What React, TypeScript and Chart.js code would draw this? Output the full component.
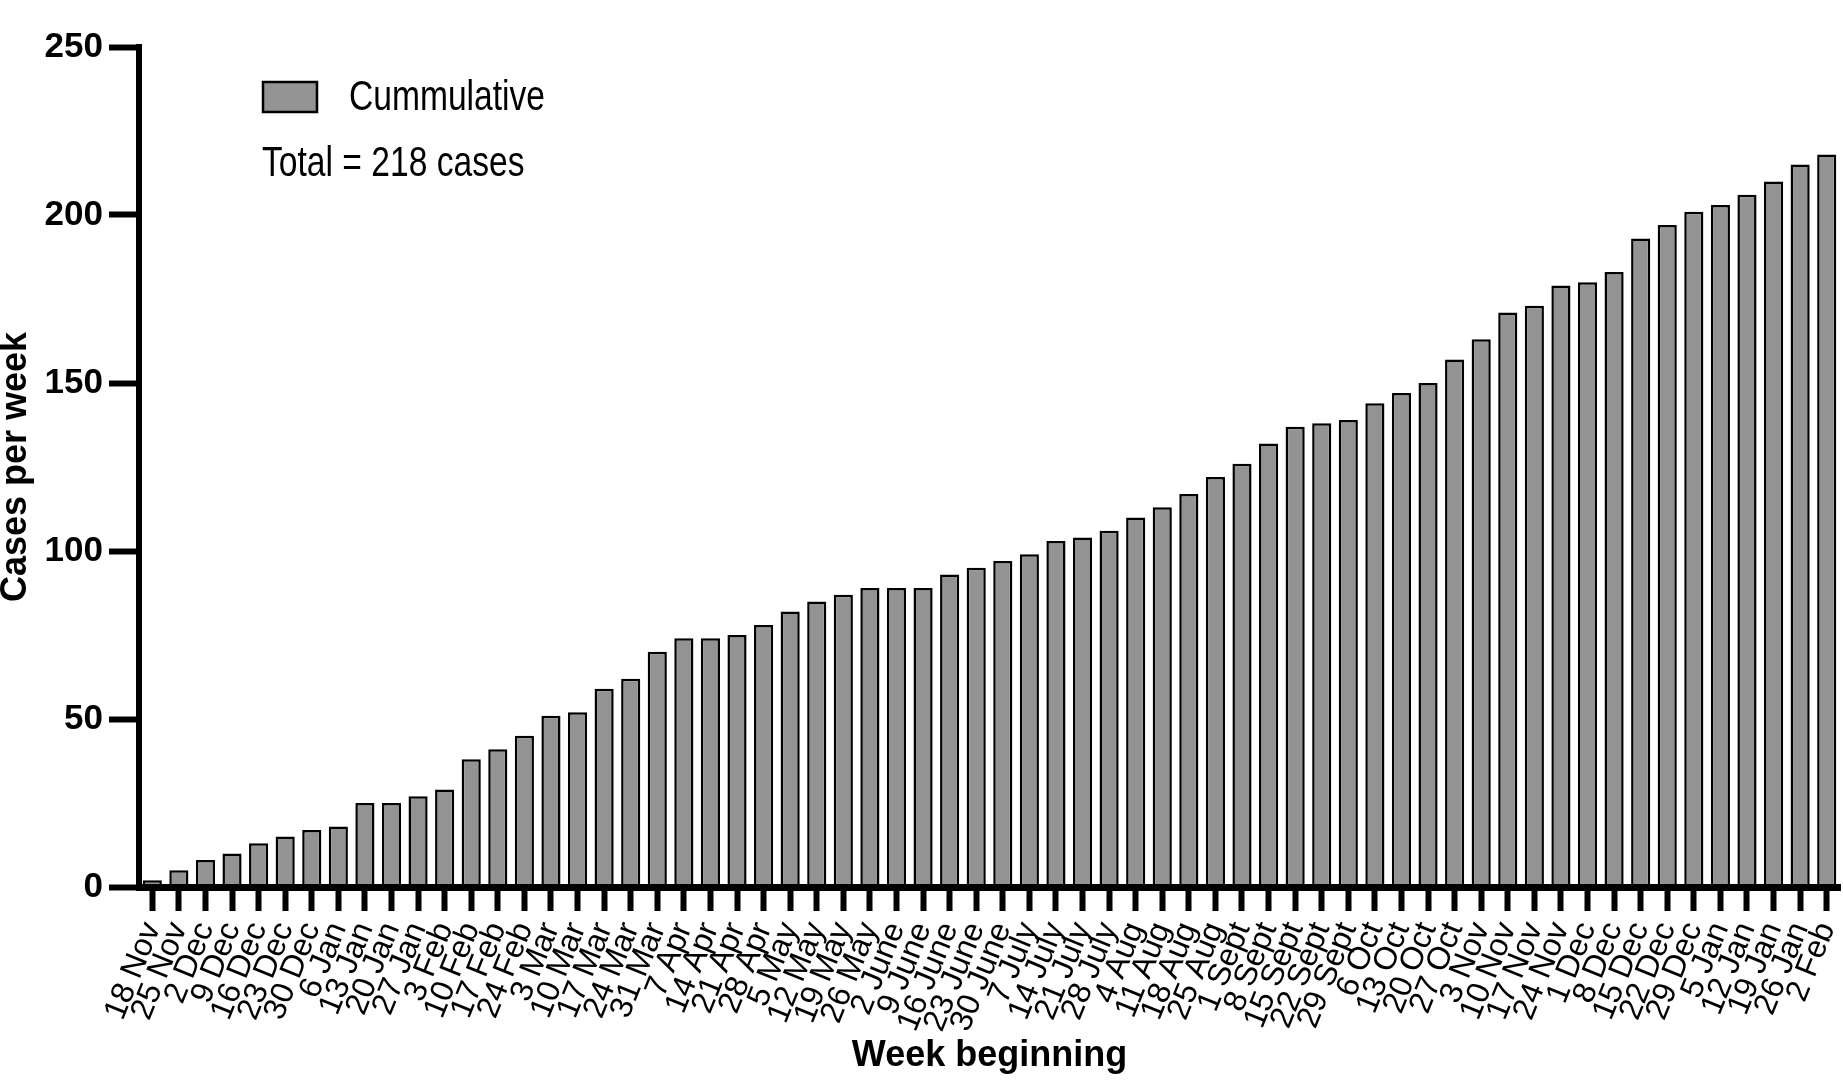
import React, { useEffect, useRef } from "react";
import { Chart, registerables } from "chart.js";

Chart.register(...registerables);

const weekLabels = [
  "18 Nov", "25 Nov", "2 Dec", "9 Dec", "16 Dec", "23 Dec", "30 Dec", "6 Jan",
  "13 Jan", "20 Jan", "27 Jan", "3 Feb", "10 Feb", "17 Feb", "24 Feb", "3 Mar",
  "10 Mar", "17 Mar", "24 Mar", "31 Mar", "7 Apr", "14 Apr", "21 Apr", "28 Apr",
  "5 May", "12 May", "19 May", "26 May", "2 June", "9 June", "16 June", "23 June",
  "30 June", "7 July", "14 July", "21 July", "28 July", "4 Aug", "11 Aug", "18 Aug",
  "25 Aug", "1 Sept", "8 Sept", "15 Sept", "22 Sept", "29 Sept", "6 Oct", "13 Oct",
  "20 Oct", "27 Oct", "3 Nov", "10 Nov", "17 Nov", "24 Nov", "1 Dec", "8 Dec",
  "15 Dec", "22 Dec", "29 Dec", "5 Jan", "12 Jan", "19 Jan", "26 Jan", "2 Feb",
];

const cumulativeCases = [
  2, 5, 8, 10, 13, 15, 17, 18,
  25, 25, 27, 29, 38, 41, 45, 51,
  52, 59, 62, 70, 74, 74, 75, 78,
  82, 85, 87, 89, 89, 89, 93, 95,
  97, 99, 103, 104, 106, 110, 113, 117,
  122, 126, 132, 137, 138, 139, 144, 147,
  150, 157, 163, 171, 173, 179, 180, 183,
  193, 197, 201, 203, 206, 210, 215, 218,
];

const yTickValues = [0, 50, 100, 150, 200, 250];

const seriesLabel = "Cummulative";
const totalNote = "Total = 218 cases";
const xAxisTitle = "Week beginning";
const yAxisTitle = "Cases per week";

const SANS = '"Liberation Sans", Arial, Helvetica, sans-serif';
const BAR_FILL = "#939393";

// legend + note, drawn with a condensed (narrow) look like the original
const legendPlugin = {
  id: "customLegend",
  afterDraw(chart: any) {
    const ctx = chart.ctx;
    const ds = chart.data.datasets[0];
    ctx.save();
    ctx.fillStyle = ds.backgroundColor;
    ctx.fillRect(263, 82, 54, 30);
    ctx.lineWidth = 2.5;
    ctx.strokeStyle = "#000";
    ctx.strokeRect(263, 82, 54, 30);
    ctx.fillStyle = "#000";
    ctx.font = `42px ${SANS}`;
    ctx.textBaseline = "middle";
    ctx.textAlign = "left";
    const sx = 0.8;
    ctx.save();
    ctx.translate(349, 98);
    ctx.scale(sx, 1);
    ctx.fillText(ds.label, 0, 0);
    ctx.restore();
    ctx.save();
    ctx.translate(262, 164);
    ctx.scale(sx, 1);
    ctx.fillText(totalNote, 0, 0);
    ctx.restore();
    ctx.restore();
  },
};

export default function App() {
  const canvasRef = useRef<HTMLCanvasElement | null>(null);

  useEffect(() => {
    if (!canvasRef.current) return;
    const chart = new Chart(canvasRef.current, {
      type: "bar",
      data: {
        labels: weekLabels,
        datasets: [
          {
            label: seriesLabel,
            data: cumulativeCases,
            backgroundColor: BAR_FILL,
            borderColor: "#000",
            borderWidth: 2.5,
            barPercentage: 0.72,
            categoryPercentage: 1,
          },
        ],
      },
      options: {
        animation: false,
        responsive: false,
        layout: { padding: { top: 47, left: 0, right: 3, bottom: 0 } },
        plugins: {
          legend: { display: false },
          tooltip: { enabled: false },
        },
        scales: {
          x: {
            type: "category",
            offset: true,
            grid: {
              display: true,
              offset: false,
              drawOnChartArea: false,
              drawTicks: true,
              tickLength: 24,
              tickWidth: 6,
              tickColor: "#000",
            },
            border: { display: true, color: "#000", width: 7, z: 1 },
            ticks: {
              autoSkip: false,
              maxRotation: 68,
              minRotation: 68,
              padding: 6,
              color: "#000",
              font: { family: SANS, size: 32 },
            },
            title: {
              display: true,
              text: xAxisTitle,
              color: "#000",
              font: { family: SANS, size: 36, weight: "bold", lineHeight: 1.2 },
              padding: { top: 0, bottom: 5 },
            },
            afterFit(scale: any) {
              scale.height = 196;
              scale.paddingLeft = 0;
              scale.paddingRight = 0;
            },
          },
          y: {
            min: 0,
            max: 250,
            afterBuildTicks(scale: any) {
              scale.ticks = yTickValues.map((v) => ({ value: v }));
            },
            grid: {
              display: true,
              drawOnChartArea: false,
              drawTicks: true,
              tickLength: 30,
              tickWidth: 6,
              tickColor: "#000",
            },
            border: { display: true, color: "#000", width: 6, z: 1 },
            ticks: {
              padding: 6,
              color: "#000",
              font: { family: SANS, size: 35, weight: "bold" },
            },
            title: {
              display: true,
              text: yAxisTitle,
              color: "#000",
              font: { family: SANS, size: 36, weight: "bold", lineHeight: 0.9 },
              padding: 0,
            },
            afterFit(scale: any) {
              scale.width = 139;
              scale.paddingTop = 0;
              scale.paddingBottom = 0;
            },
          },
        },
      },
      plugins: [legendPlugin],
    });
    return () => chart.destroy();
  }, []);

  return (
    <div style={{ position: "absolute", left: 0, top: 0, width: 1843, height: 1083, background: "#fff" }}>
      <canvas ref={canvasRef} width={1843} height={1083} style={{ display: "block" }} />
    </div>
  );
}
